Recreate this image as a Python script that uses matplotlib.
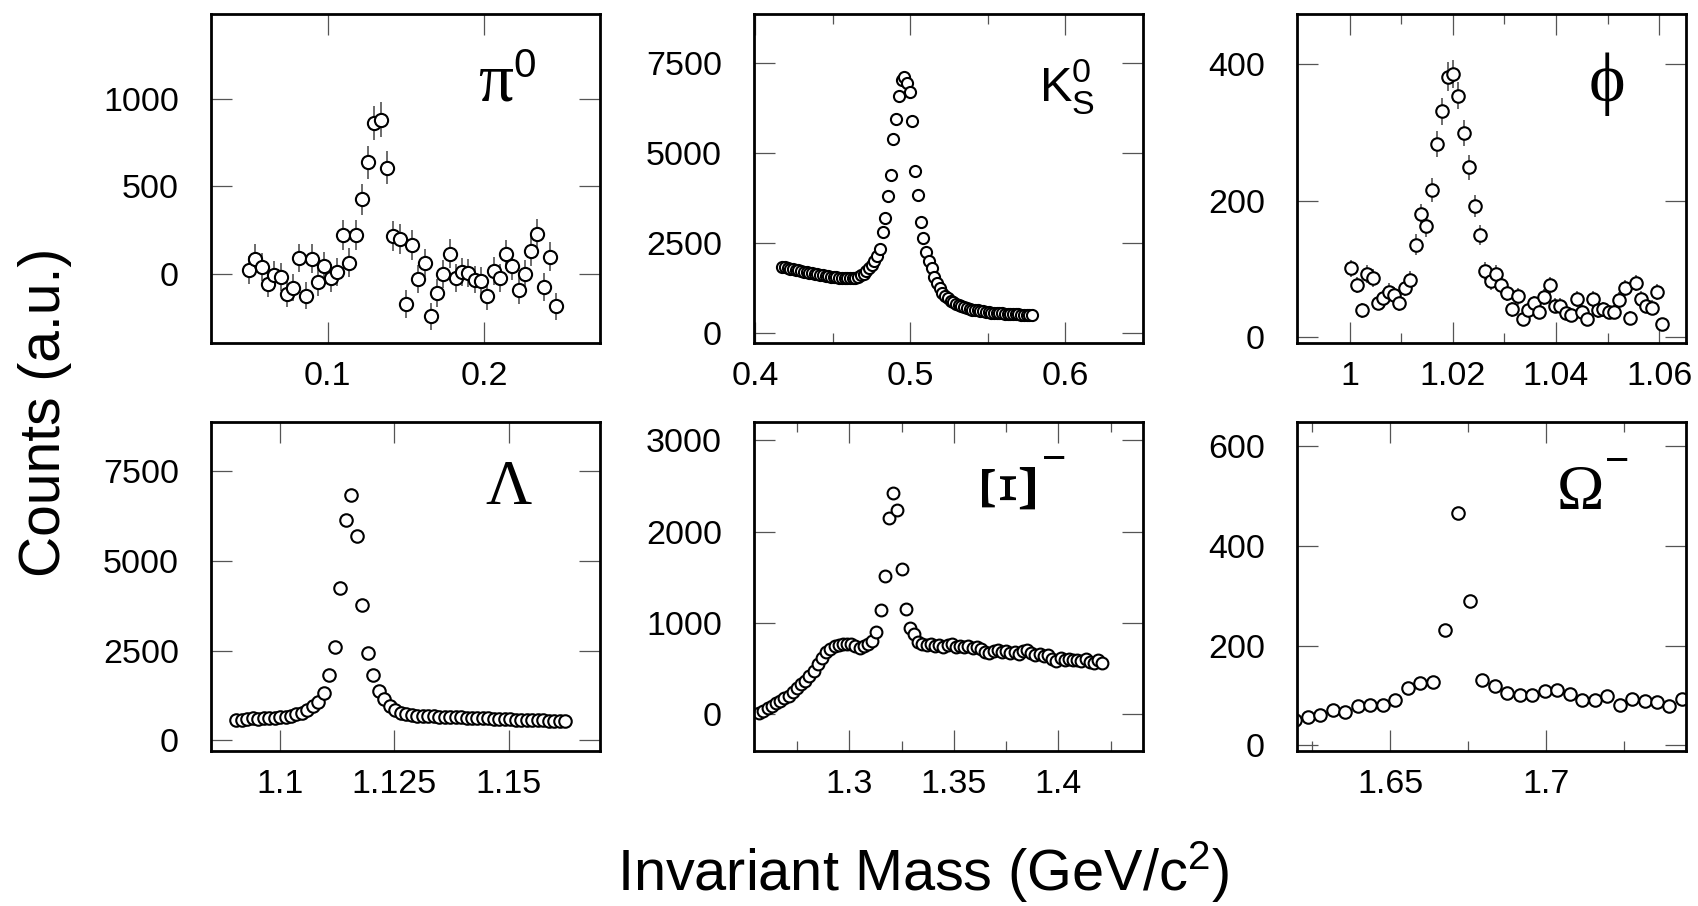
import numpy as np
import matplotlib
matplotlib.use('Agg')
import matplotlib.pyplot as plt

plt.rcParams['font.family'] = ['Liberation Sans', 'DejaVu Sans']
plt.rcParams['mathtext.fontset'] = 'custom'
plt.rcParams['mathtext.rm'] = 'Liberation Sans'
plt.rcParams['mathtext.it'] = 'Liberation Sans:italic'

# ---- data ----
# pi0: 4 MeV bins
pi0_start, pi0_width = 0.050, 0.004
pi0_counts = [19, 86, 38, -57, -10, -19, -115, -80, 90, -126,
              86, -48, 44, -25, 10, 220, 63, 220, 426, 637,
              864, 883, 608, 216, 200, -176, 163, -33, 61, -245,
              -111, 0, 115, -23, 10, 4, -34, -44, -130, 13,
              -25, 111, 44, -96, 0, 130, 224, -76, 96, -187]
pi0_err = [80, 82, 80, 80, 80, 80, 78, 80, 82, 78,
           82, 80, 80, 80, 80, 85, 82, 85, 88, 92,
           98, 98, 92, 85, 85, 80, 85, 80, 82, 78,
           80, 80, 84, 80, 80, 80, 80, 80, 78, 80,
           80, 84, 82, 80, 80, 84, 86, 80, 84, 78]

# K0s
k0_start, k0_width = 0.4175, 0.00175
k0_counts = [1850, 1830, 1810, 1790, 1770, 1755, 1740, 1720, 1705, 1690,
             1675, 1660, 1645, 1630, 1615, 1600, 1590, 1575, 1565, 1555,
             1545, 1540, 1530, 1525, 1520, 1520, 1525, 1540, 1560, 1600,
             1650, 1720, 1800, 1900, 2000, 2130,
             2350, 2800, 3200, 3800, 4400, 5400, 5950, 6600, 7050, 7130,
             6950, 6700, 5900, 4500, 3850, 3100, 2650, 2250, 2000, 1800,
             1560, 1400, 1240, 1120, 1030, 960,
             900, 850, 800, 770, 740, 710, 690, 670, 650,
             640, 630, 615, 600, 590, 580, 570, 560, 555, 550,
             545, 540, 535, 530, 525, 520, 515, 510, 505, 500,
             495, 490]

# phi: ~1 MeV bins
phi_start, phi_width = 1.0003, 0.00104
phi_counts = [101, 77, 40, 93, 87, 51, 58, 67, 62, 50,
              72, 84, 136, 180, 163, 216, 283, 331, 382, 386,
              354, 300, 249, 193, 150, 97, 82, 93, 76, 65,
              41, 60, 27, 40, 50, 37, 59, 76, 46, 46,
              36, 32, 56, 37, 27, 56, 40, 41, 37, 37,
              54, 72, 29, 80, 56, 46, 43, 66, 20]
phi_err = [13, 12, 11, 13, 13, 11, 12, 12, 12, 11,
           12, 13, 15, 16, 16, 18, 19, 20, 21, 21,
           20, 19, 18, 16, 15, 13, 13, 13, 12, 12,
           11, 12, 10, 11, 11, 10, 12, 12, 11, 11,
           10, 10, 12, 10, 10, 12, 11, 11, 10, 10,
           12, 12, 10, 12, 12, 11, 11, 12, 9]

# Lambda
lam_start, lam_width = 1.0904, 0.0012
lam_counts = [580, 560, 600, 610, 600, 610, 620, 630, 640, 660,
              680, 720, 770, 850, 950, 1080,
              1315, 1806, 2611, 4241, 6139, 6833, 5694, 3769, 2435, 1824,
              1361, 1139, 944,
              833, 760, 720, 700, 690, 680, 670, 665, 660, 650,
              650, 640, 640, 630, 625, 620, 615, 610, 600, 600,
              590, 585, 580, 575, 570, 565, 560, 555, 550, 545,
              545, 540]

# Xi-
xi_start, xi_width = 1.257, 0.002
xi_counts = [15, 40, 65, 95, 125, 150, 175, 205, 245, 285,
             330, 370, 420, 480, 550, 620, 680, 720, 745, 760,
             765, 770, 765, 750, 725, 745, 770, 800, 900, 1140,
             1520, 2150, 2420, 2240, 1590, 1150, 950, 880, 790, 770,
             760, 770, 750, 760, 740, 755, 765, 740, 750, 735,
             745, 730, 740, 720, 680, 670, 690, 700, 680, 690,
             670, 680, 665, 690, 700, 670, 650, 660, 640, 645,
             610, 580, 620, 600, 610, 590, 600, 580, 610, 570,
             560, 590, 565]

# Omega-
om_start, om_width = 1.6196, 0.004
om_counts = [51, 57, 61, 70, 67, 79, 81, 80, 91, 115,
             125, 127, 231, 465, 290, 130, 118, 105, 100, 101,
             108, 111, 103, 90, 91, 99, 80, 92, 89, 87,
             78, 93]

# axis settings
pi0_xticks, pi0_xlabels = [0.1, 0.2], ['0.1', '0.2']
k0_xticks, k0_xlabels = [0.4, 0.5, 0.6], ['0.4', '0.5', '0.6']
phi_xticks, phi_xlabels = [1.0, 1.02, 1.04, 1.06], ['1', '1.02', '1.04', '1.06']
lam_xticks, lam_xlabels = [1.1, 1.125, 1.15], ['1.1', '1.125', '1.15']
xi_xticks, xi_xlabels = [1.3, 1.35, 1.4], ['1.3', '1.35', '1.4']
om_xticks, om_xlabels = [1.65, 1.7], ['1.65', '1.7']

fig = plt.figure(figsize=(16.98, 9.06), dpi=100)

col_left = [211 / 1698, 754 / 1698, 1297 / 1698]
row_bottom = [1 - 343 / 906, 1 - 751 / 906]
w, h = 389 / 1698, 329 / 906

serif = ['Liberation Serif', 'DejaVu Serif']


def style_panel(ax, xlim, ylim, xticks, xlabels, yticks, xminor=None):
    ax.set_xlim(*xlim)
    ax.set_ylim(*ylim)
    ax.set_xticks(xticks)
    ax.set_xticklabels(xlabels)
    ax.set_yticks(yticks)
    ax.set_yticklabels([str(t) for t in yticks])
    if xminor:
        ax.set_xticks(xminor, minor=True)
    ax.tick_params(which='both', direction='in', top=True, right=True,
                   color='#555555', width=0.9, labelsize=24.5)
    ax.tick_params(which='major', length=15)
    ax.tick_params(which='minor', length=7.5)
    ax.tick_params(axis='x', pad=13)
    ax.tick_params(axis='y', pad=23)
    for sp in ax.spines.values():
        sp.set_linewidth(2.0)


def bins(start, width, counts):
    return start + width * np.arange(len(counts))


mk = dict(marker='o', mfc='white', mec='black', mew=1.5, ls='none')

# pi0
ax = fig.add_axes([col_left[0], row_bottom[0], w, h])
ax.errorbar(bins(pi0_start, pi0_width, pi0_counts), pi0_counts, yerr=pi0_err,
            ms=9.5, ecolor='#444444', elinewidth=1.1, capsize=0, **mk)
style_panel(ax, (0.0256, 0.274), (-398, 1488), pi0_xticks, pi0_xlabels, [0, 500, 1000])
ax.text(0.731, 0.738, 'π', transform=ax.transAxes, fontsize=50,
        family=serif, ha='center', va='baseline')
ax.text(0.806, 0.90, '0', transform=ax.transAxes, fontsize=29, ha='center', va='top')

# K0s
ax = fig.add_axes([col_left[1], row_bottom[0], w, h])
ax.plot(bins(k0_start, k0_width, k0_counts), k0_counts, ms=8, **mk)
style_panel(ax, (0.3994, 0.650), (-278, 8874), k0_xticks, k0_xlabels,
            [0, 2500, 5000, 7500], xminor=[0.45, 0.55])
ax.text(0.733, 0.736, r'K$^{0}_{\mathrm{S}}$', transform=ax.transAxes, fontsize=35,
        ha='left', va='baseline')

# phi
ax = fig.add_axes([col_left[2], row_bottom[0], w, h])
ax.errorbar(bins(phi_start, phi_width, phi_counts), phi_counts, yerr=phi_err,
            ms=9, ecolor='#444444', elinewidth=1.1, capsize=0, **mk)
style_panel(ax, (0.9898, 1.0652), (-8.3, 473.7), phi_xticks, phi_xlabels,
            [0, 200, 400], xminor=[1.01, 1.03, 1.05])
ax.text(0.797, 0.787, 'ϕ', transform=ax.transAxes, fontsize=50,
        family=serif, ha='center', va='center')

# Lambda
ax = fig.add_axes([col_left[0], row_bottom[1], w, h])
ax.plot(bins(lam_start, lam_width, lam_counts), lam_counts, ms=9, **mk)
style_panel(ax, (1.0849, 1.170), (-297, 8865), lam_xticks, lam_xlabels,
            [0, 2500, 5000, 7500])
ax.text(0.764, 0.750, 'Λ', transform=ax.transAxes, fontsize=46,
        family=serif, ha='center', va='baseline')

# Xi-
ax = fig.add_axes([col_left[1], row_bottom[1], w, h])
ax.plot(bins(xi_start, xi_width, xi_counts), xi_counts, ms=8.5, **mk)
style_panel(ax, (1.2545, 1.4404), (-401, 3201), xi_xticks, xi_xlabels,
            [0, 1000, 2000, 3000], xminor=[1.275, 1.325, 1.375, 1.425])
ax.text(0.662, 0.814, 'Ξ', transform=ax.transAxes, fontsize=58, rotation=90,
        family=serif, ha='center', va='center')
ax.text(0.772, 0.883, '−', transform=ax.transAxes, fontsize=30, ha='center', va='center')

# Omega-
ax = fig.add_axes([col_left[2], row_bottom[1], w, h])
ax.plot(bins(om_start, om_width, om_counts), om_counts, ms=9, **mk)
style_panel(ax, (1.6201, 1.7449), (-11.4, 648), om_xticks, om_xlabels,
            [0, 200, 400, 600], xminor=[1.625, 1.675, 1.725])
ax.text(0.728, 0.737, 'Ω', transform=ax.transAxes, fontsize=46,
        family=serif, ha='center', va='baseline')
ax.text(0.822, 0.879, '−', transform=ax.transAxes, fontsize=30, ha='center', va='center')

fig.text(0.0265, 0.545, 'Counts (a.u.)', rotation=90, fontsize=41, ha='center', va='center')
fig.text(0.5436, 0.0375, 'Invariant Mass (GeV/c$^{2}$)', fontsize=41.5, ha='center', va='center')

fig.savefig('out.png', dpi=100)
